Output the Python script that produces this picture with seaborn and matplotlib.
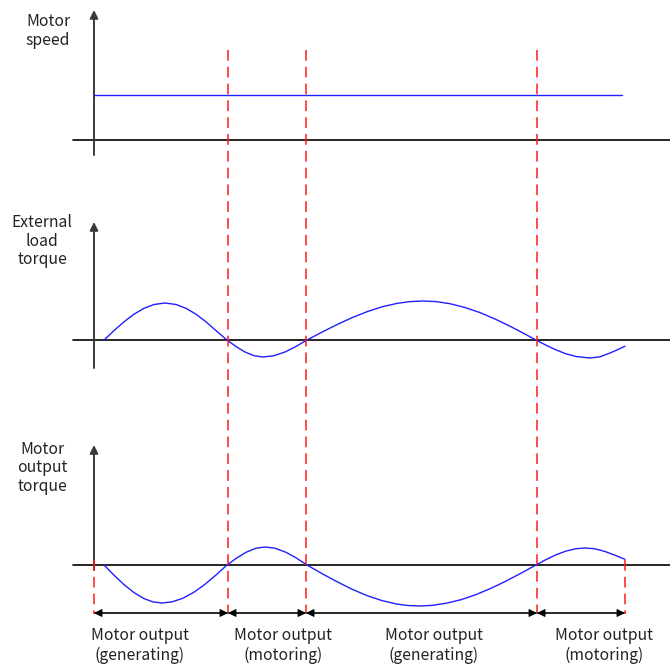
import numpy as np
import pandas as pd
import seaborn as sns
import matplotlib
matplotlib.use("Agg")
import matplotlib.pyplot as plt

# ---------------- data (time in px-units along the shared time axis) ----------------
speed_t = [94, 622]
speed_v = [45, 45]          # constant motor speed (height above its zero line)

load_t = [104, 114, 124, 134, 144, 154, 165, 176, 186, 196, 206, 216, 227,
          236, 245, 254, 263, 274, 285, 296, 307,
          322, 337, 352, 367, 382, 397, 410, 423, 436, 450, 465, 480, 495, 510, 523, 536,
          546, 556, 566, 576, 590, 600, 610, 618, 625]
load_v = [0, 9.4, 18.2, 25.8, 31.7, 35.5, 37, 35.5, 31.7, 25.8, 18.2, 9.4, 0,
          -6.5, -12.0, -15.7, -17, -15.7, -12.0, -6.5, 0,
          7.9, 15.4, 22.3, 28.3, 33.2, 36.6, 38.4, 39, 38.4, 36.3, 32.5, 27.4, 21.0, 13.8, 7.0, 0,
          -5.2, -9.9, -13.8, -16.5, -18, -16.8, -13.0, -9.5, -6.2]

out_t = [104, 114, 124, 134, 144, 153, 162, 172, 183, 194, 205, 216, 227,
         236, 246, 256, 265, 275, 286, 296, 307,
         322, 337, 352, 367, 382, 397, 408, 419, 432, 446, 461, 476, 491, 506, 521, 536,
         546, 556, 566, 576, 585, 595, 605, 615, 625]
out_v = [0, -10.2, -19.6, -27.6, -33.6, -36.9, -38, -36.9, -33.2, -27.2, -19.3, -10.0, 0,
         6.5, 12.7, 16.8, 18, 16.8, 12.7, 7.2, 0,
         -8.6, -16.7, -24.2, -30.6, -35.6, -39.1, -40.5, -41, -40.4, -38.3, -34.7, -29.6, -23.3, -16.1, -8.2, 0,
         5.4, 10.2, 13.9, 16.3, 17, 16.2, 13.5, 9.8, 5.7]

boundaries = [94, 228, 306, 537, 625]
region_titles = ["Motor output", "Motor output", "Motor output", "Motor output"]
region_modes = ["(generating)", "(motoring)", "(generating)", "(motoring)"]
region_label_x = [140, 283, 434, 604]

panel_titles = ["Motor\nspeed", "External\nload\ntorque", "Motor\noutput\ntorque"]

# ---------------- layout (pixels) ----------------
W, H = 670, 665
baselines = [140, 340, 565]
axis_top = [10, 222, 445]
axis_bottom = [155, 368, 570]
title_xy = [(48, 31), (42, 241), (42, 468)]

sns.set_theme(style="white")
plt.rcParams['font.family'] = ['Noto Sans CJK SC', 'DejaVu Sans']

fig = plt.figure(figsize=(W / 100, H / 100), dpi=100)
ax = fig.add_axes([0, 0, 1, 1])
ax.set_xlim(0, W)
ax.set_ylim(H, 0)
ax.axis("off")

blue = "#1f1fff"
red = "#ff1a1a"
txt = "#222222"
fs = 11.3

# curves
curves = [(speed_t, speed_v, 0), (load_t, load_v, 1), (out_t, out_v, 2)]
for t, v, i in curves:
    df = pd.DataFrame({"t": t, "y": [baselines[i] - vv for vv in v]})
    sns.lineplot(data=df, x="t", y="y", ax=ax, color=blue, lw=1.0, sort=False,
                 estimator=None, zorder=3)

# axes
for i in range(3):
    ax.plot([73, 670], [baselines[i], baselines[i]], color="black", lw=1.2, zorder=2)
    ax.annotate("", xy=(94, axis_top[i]), xytext=(94, axis_bottom[i]),
                arrowprops=dict(arrowstyle="-|>", color="#3a3a3a", lw=1.4,
                                mutation_scale=12, shrinkA=0, shrinkB=0), zorder=2)
    ax.text(title_xy[i][0], title_xy[i][1], panel_titles[i], ha="center", va="center",
            fontsize=fs, color=txt, linespacing=1.15)

# dashed boundaries
dash = dict(color=red, lw=1.1, ls=(0, (7, 4)), zorder=4)
for b in boundaries[1:-1]:
    ax.plot([b, b], [50, 612], **dash)
for b in (boundaries[0], boundaries[-1]):
    ax.plot([b, b], [560, 614], **dash)

# region arrows and labels
for k in range(4):
    ax.plot([boundaries[k], boundaries[k + 1]], [613, 613], color="#555555", lw=1.3, zorder=3)
    ax.annotate("", xy=(boundaries[k], 613), xytext=(boundaries[k + 1], 613),
                arrowprops=dict(arrowstyle="<|-|>", color="black", lw=0.8,
                                mutation_scale=12, shrinkA=0, shrinkB=0), zorder=3)
    ax.text(region_label_x[k], 635, region_titles[k], ha="center", va="center",
            fontsize=fs, color=txt)
    ax.text(region_label_x[k], 655, region_modes[k], ha="center", va="center",
            fontsize=fs, color=txt)

fig.savefig("out.png", dpi=100)
